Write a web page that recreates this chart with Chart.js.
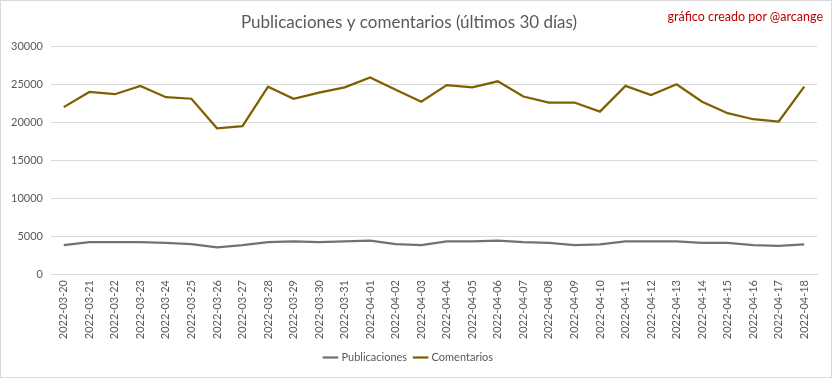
<!DOCTYPE html>
<html>
<head>
<meta charset="utf-8">
<script src="https://cdn.jsdelivr.net/npm/chart.js@4.4.1/dist/chart.umd.min.js"></script>
<style>
  html, body { margin: 0; padding: 0; background: #fff; }
  #wrap { position: relative; width: 832px; height: 378px; box-sizing: border-box; border: 1px solid #d9d9d9; }
  #credit { position: absolute; right: 8px; top: 8px; font: 12.5px Lato, sans-serif; color: #c00000; }
</style>
</head>
<body>
<div id="wrap">
  <canvas id="postsChart" width="830" height="376"></canvas>
  <div id="credit">gráfico creado por @arcange</div>
</div>
<script>
// data
var days = ['2022-03-20', '2022-03-21', '2022-03-22', '2022-03-23', '2022-03-24', '2022-03-25', '2022-03-26', '2022-03-27', '2022-03-28', '2022-03-29',
            '2022-03-30', '2022-03-31', '2022-04-01', '2022-04-02', '2022-04-03', '2022-04-04', '2022-04-05', '2022-04-06', '2022-04-07', '2022-04-08',
            '2022-04-09', '2022-04-10', '2022-04-11', '2022-04-12', '2022-04-13', '2022-04-14', '2022-04-15', '2022-04-16', '2022-04-17', '2022-04-18'];
var publicaciones = [3800, 4200, 4200, 4200, 4100, 3950, 3500, 3800, 4200, 4300,
                     4200, 4300, 4400, 3950, 3800, 4300, 4300, 4400, 4200, 4100,
                     3800, 3900, 4300, 4300, 4300, 4100, 4100, 3800, 3700, 3900];
var comentarios = [22000, 24000, 23700, 24800, 23300, 23100, 19200, 19500, 24700, 23100,
                   23900, 24600, 25900, 24300, 22700, 24900, 24600, 25400, 23400, 22600,
                   22600, 21400, 24800, 23600, 25000, 22700, 21200, 20400, 20100, 24700];
var yTicks = [0, 5000, 10000, 15000, 20000, 25000, 30000];

var textColor = '#595959';
var font = 'Lato, sans-serif';

var ctx = document.getElementById('postsChart');
new Chart(ctx, {
    type: 'line',
    data: {
        labels: days,
        datasets: [{
            label: 'Publicaciones',
            data: publicaciones,
            borderColor: '#767171',
            borderWidth: 2.25,
            pointRadius: 0,
            tension: 0
        }, {
            label: 'Comentarios',
            data: comentarios,
            borderColor: '#7f6000',
            borderWidth: 2.25,
            pointRadius: 0,
            tension: 0
        }]
    },
    options: {
        responsive: false,
        animation: false,
        layout: { padding: { left: 0, right: 14, top: 0, bottom: 4 } },
        plugins: {
            title: {
                display: true,
                text: 'Publicaciones y comentarios (últimos 30 días)',
                color: textColor,
                font: { family: font, size: 17, weight: 'normal' },
                padding: { top: 11, bottom: 14 }
            },
            legend: {
                position: 'bottom',
                labels: {
                    color: textColor,
                    font: { family: font, size: 11 },
                    usePointStyle: true,
                    pointStyle: 'line',
                    boxWidth: 30,
                    padding: 8
                }
            },
            tooltip: { enabled: false }
        },
        scales: {
            x: {
                offset: true,
                grid: { display: false, drawTicks: false },
                border: { color: '#d9d9d9' },
                ticks: {
                    color: textColor,
                    font: { family: font, size: 11 },
                    minRotation: 90,
                    maxRotation: 90,
                    autoSkip: false,
                    padding: 6
                },
                afterFit: function(scale) { scale.height = 70; }
            },
            y: {
                min: 0,
                max: 30000,
                afterBuildTicks: function(scale) {
                    scale.ticks = yTicks.map(function(v) { return { value: v }; });
                },
                grid: { color: '#d9d9d9', drawTicks: false },
                border: { display: false },
                ticks: {
                    color: textColor,
                    font: { family: font, size: 11 },
                    padding: 8,
                    callback: function(value) { return String(value); }
                },
                afterFit: function(scale) { scale.width = 50; }
            }
        }
    }
});
</script>
</body>
</html>
